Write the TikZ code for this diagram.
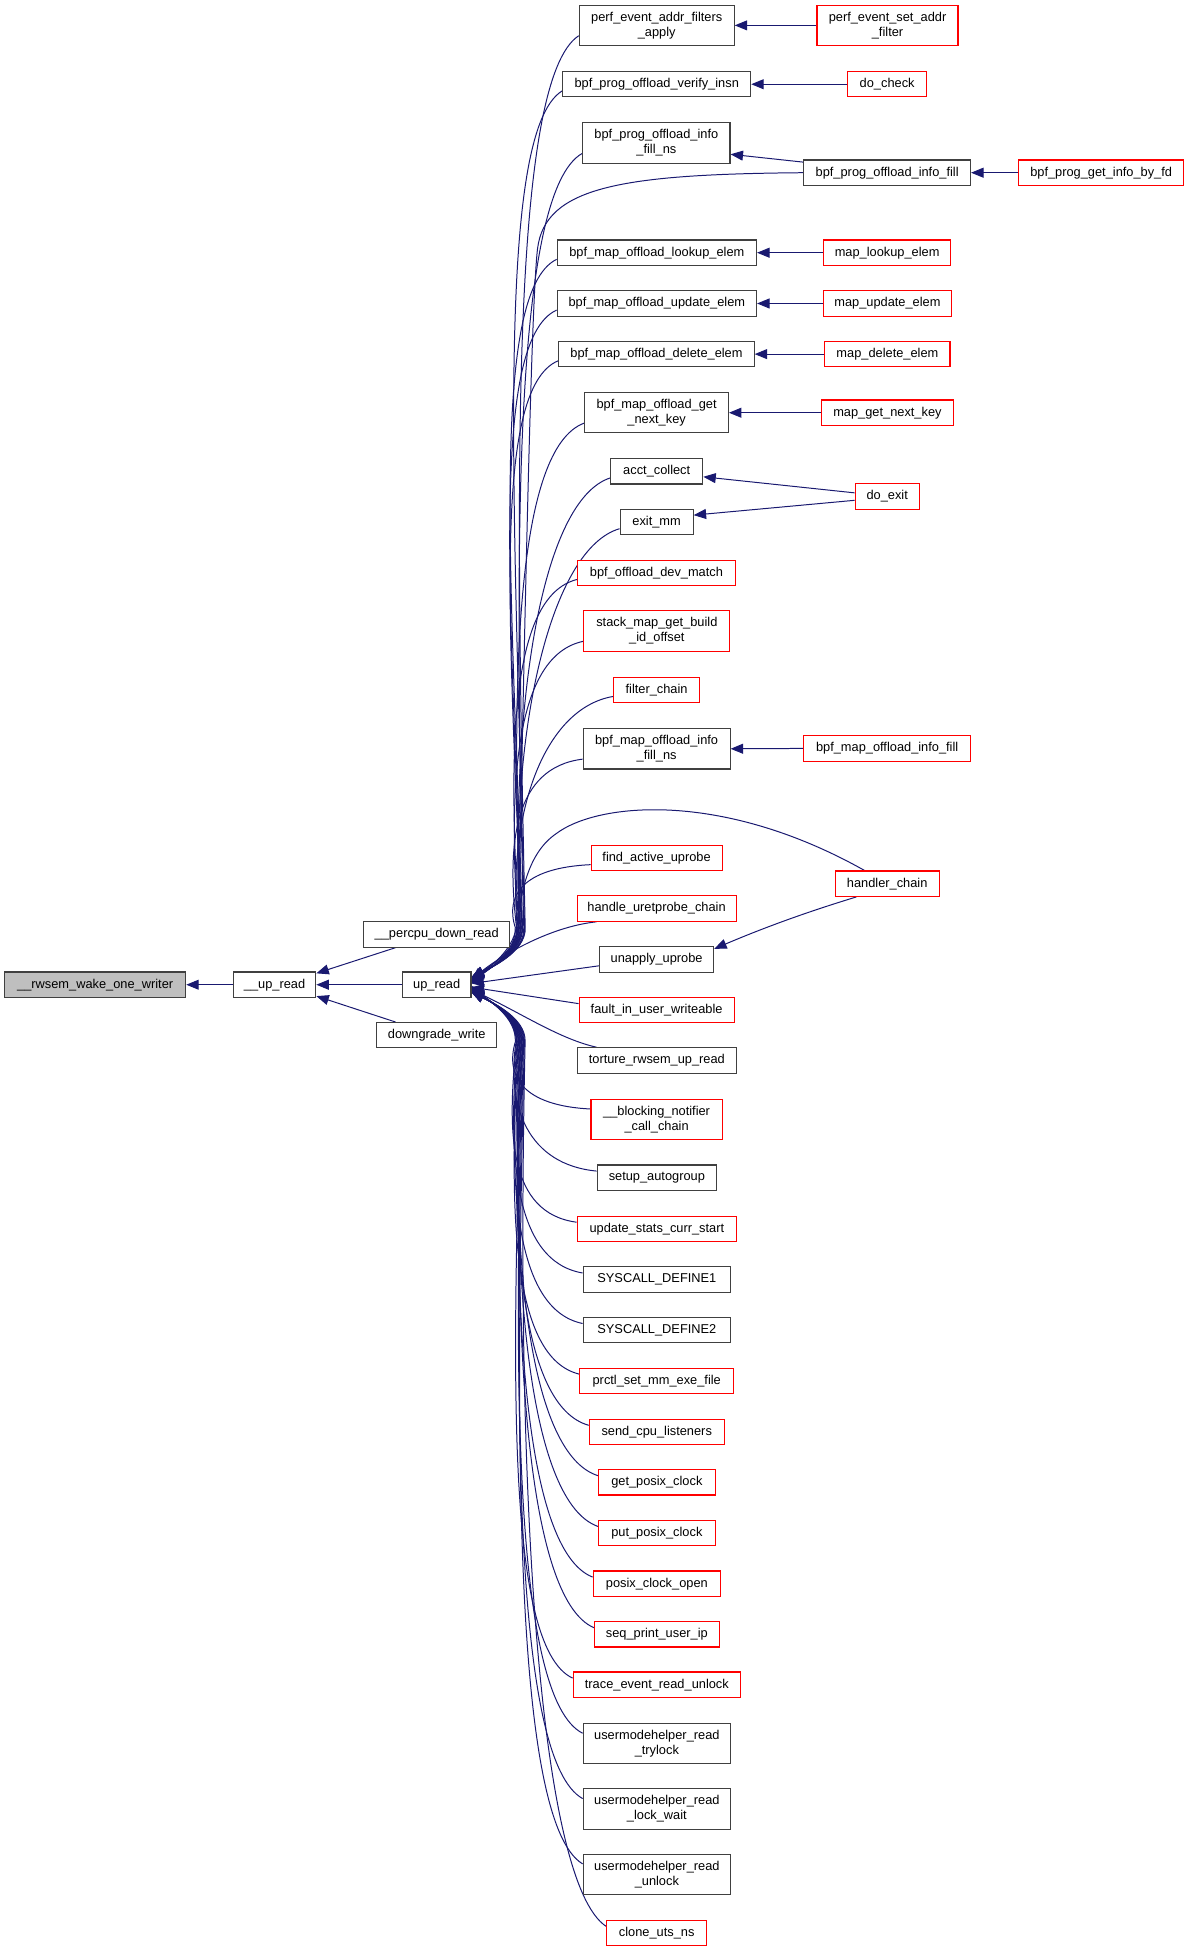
\documentclass[tikz,border=0pt]{standalone}
\usepackage{fontspec}
\setmainfont{Liberation Sans}
\usetikzlibrary{arrows.meta,calc}
\pgfdeclarelayer{bg}
\pgfsetlayers{bg,main}
\definecolor{edgec}{HTML}{191970}
\definecolor{boxk}{HTML}{404040}
\definecolor{boxr}{HTML}{FF0000}
\definecolor{gfill}{HTML}{BFBFBF}
\tikzset{
  nd/.style={draw=boxk, line width=0.9pt, fill=white, inner sep=0pt, minimum height=20.4pt, align=center, font=\fontsize{10.3pt}{12pt}\selectfont},
  nd2/.style={nd, minimum height=32.4pt},
  rd/.style={nd, draw=boxr},
  rd2/.style={nd2, draw=boxr},
  arr/.style={draw=edgec, line width=0.8pt, {Triangle[length=10pt,width=8pt,fill=edgec]}-},
}
\newcommand\upA[1]{\draw[arr] let \p1=(upread.east), \p2=($(#1.west)!0.5!(#1.south west)$), \n1={\y2-\y1}, \n2={\x1+34+0.012*\n1} in ({\x1},{\y1+min(6,0.01*\n1)}) .. controls ({\x1+14},{\y1+13}) and ({\n2+1},{\y1+26}) .. ({\n2},{\y1+46}) .. controls ({\n2-8},{\y1+46+0.5*(\n1-46)}) and ({\x2-55},{\y2-0.05*(\n1-46)}) .. (\p2);}
\newcommand\upB[1]{\draw[arr] let \p1=(upread.east), \p2=($(#1.west)!0.5!(#1.north west)$), \n1={\y2-\y1}, \n2={\x1+34-0.012*\n1} in ({\x1},{\y1+max(-6,0.01*\n1)}) .. controls ({\x1+14},{\y1-13}) and ({\n2+1},{\y1-26}) .. ({\n2},{\y1-46}) .. controls ({\n2-8},{\y1-46+0.5*(\n1+46)}) and ({\x2-55},{\y2-0.05*(\n1+46)}) .. (\p2);}
\begin{document}
\begin{tikzpicture}[x=1pt,y=-1pt]
\useasboundingbox (0,0) rectangle (955,1568);
% column 0-2
\node[nd, fill=gfill, minimum width=145.5pt] (rwsem) at (76.5,791.4) {\_\_rwsem\_wake\_one\_writer};
\node[nd, minimum width=66.2pt] (upU) at (220.7,791.4) {\_\_up\_read};
\node[nd, minimum width=117.5pt] (percpu) at (351,751) {\_\_percpu\_down\_read};
\node[nd, minimum width=55pt] (upread) at (351,791.4) {up\_read};
\node[nd, minimum width=96.3pt] (downgrade) at (351,832) {downgrade\_write};
% column 3
\node[nd2, minimum width=124.5pt] (perfapply) at (527.8,20.4) {perf\_event\_addr\_filters\\\_apply};
\node[nd, minimum width=151pt] (verify) at (527.8,67.7) {bpf\_prog\_offload\_verify\_insn};
\node[nd2, minimum width=118.4pt] (pifns) at (527.5,115) {bpf\_prog\_offload\_info\\\_fill\_ns};
\node[nd, minimum width=160.2pt] (lookup) at (527.9,203.1) {bpf\_map\_offload\_lookup\_elem};
\node[nd, minimum width=160.2pt] (update) at (527.9,243.9) {bpf\_map\_offload\_update\_elem};
\node[nd, minimum width=157pt] (delete) at (527.6,284.6) {bpf\_map\_offload\_delete\_elem};
\node[nd2, minimum width=115.4pt] (getnext) at (527.7,331.7) {bpf\_map\_offload\_get\\\_next\_key};
\node[nd, minimum width=74pt] (acct) at (527.8,378.8) {acct\_collect};
\node[nd, minimum width=58.7pt] (exitmm) at (527.7,419.6) {exit\_mm};
\node[rd, minimum width=127pt] (devmatch) at (527.6,460.4) {bpf\_offload\_dev\_match};
\node[rd2, minimum width=117.4pt] (stackmap) at (527.9,507.1) {stack\_map\_get\_build\\\_id\_offset};
\node[rd, minimum width=68.9pt] (filter) at (527.7,554.4) {filter\_chain};
\node[nd2, minimum width=118.1pt] (mifns) at (527.7,601.8) {bpf\_map\_offload\_info\\\_fill\_ns};
\node[rd, minimum width=105.3pt] (findact) at (527.7,689.6) {find\_active\_uprobe};
\node[rd, minimum width=127.8pt] (handleuret) at (527.7,730.2) {handle\_uretprobe\_chain};
\node[nd, minimum width=91.7pt] (unapply) at (527.7,771.2) {unapply\_uprobe};
\node[rd, minimum width=124.6pt] (fault) at (527.7,811.6) {fault\_in\_user\_writeable};
\node[nd, minimum width=128pt] (torture) at (527.9,852.3) {torture\_rwsem\_up\_read};
\node[rd2, minimum width=105.4pt] (blocking) at (527.7,899.6) {\_\_blocking\_notifier\\\_call\_chain};
\node[nd, minimum width=95.9pt] (setupag) at (527.9,946.5) {setup\_autogroup};
\node[rd, minimum width=128pt] (updstats) at (527.9,987.6) {update\_stats\_curr\_start};
\node[nd, minimum width=118.4pt] (sysa) at (527.9,1028.4) {SYSCALL\_DEFINE1};
\node[nd, minimum width=118.4pt] (sysb) at (527.9,1069) {SYSCALL\_DEFINE2};
\node[rd, minimum width=123.5pt] (prctl) at (527.8,1109.7) {prctl\_set\_mm\_exe\_file};
\node[rd, minimum width=108.5pt] (sendcpu) at (527.8,1150.8) {send\_cpu\_listeners};
\node[rd, minimum width=93.8pt] (getposix) at (527.9,1191.3) {get\_posix\_clock};
\node[rd, minimum width=93.8pt] (putposix) at (527.9,1232.1) {put\_posix\_clock};
\node[rd, minimum width=102.3pt] (posixopen) at (527.9,1272.8) {posix\_clock\_open};
\node[rd, minimum width=100.2pt] (seqprint) at (527.9,1313.5) {seq\_print\_user\_ip};
\node[rd, minimum width=134.5pt] (traceevt) at (527.9,1354) {trace\_event\_read\_unlock};
\node[nd2, minimum width=118.4pt] (umhtry) at (527.9,1401.3) {usermodehelper\_read\\\_trylock};
\node[nd2, minimum width=118.4pt] (umhwait) at (527.9,1453.8) {usermodehelper\_read\\\_lock\_wait};
\node[nd2, minimum width=118.4pt] (umhunlock) at (527.9,1506.3) {usermodehelper\_read\\\_unlock};
\node[rd, minimum width=80.1pt] (clone) at (527.8,1553.6) {clone\_uts\_ns};
% column 4
\node[rd2, minimum width=113.3pt] (setaddr) at (713.3,20.4) {perf\_event\_set\_addr\\\_filter};
\node[rd, minimum width=63.5pt] (docheck) at (713,67.7) {do\_check};
\node[nd, minimum width=134pt] (pif) at (713,138.8) {bpf\_prog\_offload\_info\_fill};
\node[rd, minimum width=102.2pt] (maplookup) at (713,203.1) {map\_lookup\_elem};
\node[rd, minimum width=103.3pt] (mapupdate) at (713.2,243.9) {map\_update\_elem};
\node[rd, minimum width=100.5pt] (mapdelete) at (713.2,284.6) {map\_delete\_elem};
\node[rd, minimum width=106.1pt] (mapgetnext) at (713.2,331.7) {map\_get\_next\_key};
\node[rd, minimum width=51.5pt] (doexit) at (713,399.1) {do\_exit};
\node[rd, minimum width=134.5pt] (mif) at (713,601.5) {bpf\_map\_offload\_info\_fill};
\node[rd, minimum width=83.6pt] (handler) at (713,710.2) {handler\_chain};
% column 5
\node[rd, minimum width=132.2pt] (getinfo) at (885,138.8) {bpf\_prog\_get\_info\_by\_fd};
\begin{pgfonlayer}{bg}
% edges, left part
\draw[arr] (rwsem.east) -- (upU.west);
\draw[arr] (upU.east) -- (upread.west);
\draw[arr] ($(upU.north east)+(0,1.5)$) -- ($(percpu.south west)+(26,0)$);
\draw[arr] ($(upU.south east)+(0,-1.5)$) -- ($(downgrade.north west)+(15.4,0)$);
% column 4 -> column 3
\draw[arr] (perfapply.east) -- (setaddr.west);
\draw[arr] (verify.east) -- (docheck.west);
\draw[arr] ($(pifns.east)+(0,9)$) -- ($(pif.west)+(0,-8.5)$);
\draw[arr] (pif.east) -- (getinfo.west);
\draw[arr] (lookup.east) -- (maplookup.west);
\draw[arr] (update.east) -- (mapupdate.west);
\draw[arr] (delete.east) -- (mapdelete.west);
\draw[arr] (getnext.east) -- (mapgetnext.west);
\draw[arr] ($(acct.east)+(0,4.4)$) -- ($(doexit.west)+(0,-3)$);
\draw[arr] ($(exitmm.east)+(0,-5.6)$) -- ($(doexit.west)+(0,3)$);
\draw[arr] (mifns.east) -- (mif.west);
\draw[arr] ($(unapply.north east)+(0,2)$) .. controls (620,743) and (655,731) .. ($(handler.south west)+(17.5,0)$);
% up_read bundle
\draw[arr] ($(upread.east)+(0,-6)$) .. controls (392,778) and (414,765) .. (416.5,745) .. controls (420,600) and (426,250) .. (432,200) .. controls (438,150) and (500,140) .. (pif.west);
\draw[arr] ($(upread.east)+(0,-3)$) .. controls (392,778) and (412,765) .. (415,745) .. controls (419,715) and (425,685) .. (447,670) .. controls (480,645) and (580,635) .. ($(handler.north west)+(24,0)$);
\draw[arr] ($(upread.east)+(0,-4)$) .. controls (400,770) and (440,745) .. ($(handleuret.south west)+(16,0)$);
\draw[arr] ($(upread.east)+(0,-1)$) -- ($(unapply.west)+(0,5)$);
\draw[arr] ($(upread.east)+(0,2)$) -- ($(fault.west)+(0,-5)$);
\draw[arr] ($(upread.east)+(0,4)$) .. controls (420,815) and (450,835) .. ($(torture.north west)+(16,0)$);
\upA{perfapply}
\upA{verify}
\upA{pifns}
\upA{lookup}
\upA{update}
\upA{delete}
\upA{getnext}
\upA{acct}
\upA{exitmm}
\upA{devmatch}
\upA{stackmap}
\upA{filter}
\upA{mifns}
\upA{findact}
\upB{blocking}
\upB{setupag}
\upB{updstats}
\upB{sysa}
\upB{sysb}
\upB{prctl}
\upB{sendcpu}
\upB{getposix}
\upB{putposix}
\upB{posixopen}
\upB{seqprint}
\upB{traceevt}
\upB{umhtry}
\upB{umhwait}
\upB{umhunlock}
\upB{clone}
\end{pgfonlayer}
\end{tikzpicture}
\end{document}
